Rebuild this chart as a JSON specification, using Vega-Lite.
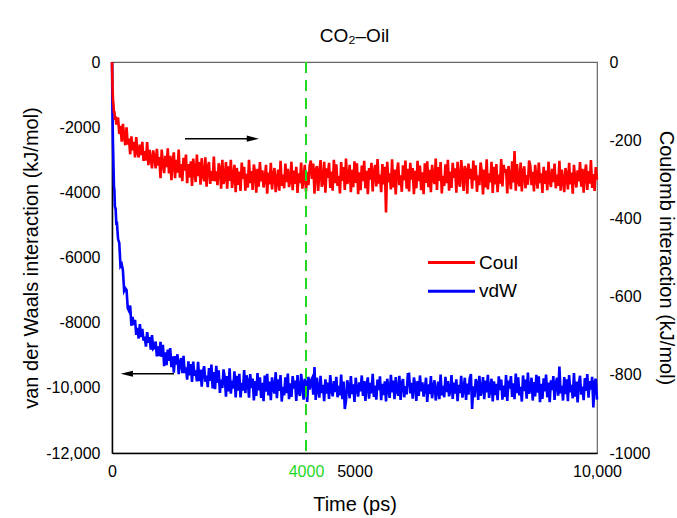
{
  "$schema": "https://vega.github.io/schema/vega-lite/v6.json",
  "width": 485,
  "height": 391,
  "autosize": {"type": "none"},
  "padding": {"left": 112, "top": 62, "right": 80, "bottom": 65},
  "background": "white",
  "config": {
    "font": "Liberation Sans",
    "view": {"stroke": "#666666", "strokeWidth": 1.2},
    "axis": {"grid": false, "ticks": false, "tickSize": 0, "labelFontSize": 16, "titleFontSize": 20, "titleFontWeight": "normal", "labelColor": "black", "titleColor": "black", "domainColor": "black", "domainWidth": 1.5, "labelFlush": false, "labelOverlap": false}
  },
  "title": {"text": "CO₂–Oil", "fontSize": 19, "fontWeight": "normal", "offset": 8, "color": "black", "anchor": "middle"},
  "datasets": {
    "md": [
      {"t":0,"c":0,"v":0},{"t":10,"c":-60,"v":-1500},{"t":20,"c":-97,"v":-2500},{"t":30,"c":-108,"v":-3150},{"t":40,"c":-131,"v":-3800},
      {"t":50,"c":-126,"v":-3950},{"t":60,"c":-148,"v":-4450},{"t":75,"c":-139,"v":-4500},{"t":90,"c":-160,"v":-5000},{"t":100,"c":-150,"v":-4900},
      {"t":125,"c":-142,"v":-5436},{"t":150,"c":-184,"v":-5552},{"t":175,"c":-163,"v":-6264},{"t":200,"c":-204,"v":-6204},{"t":225,"c":-158,"v":-6388},
      {"t":250,"c":-190,"v":-7022},{"t":275,"c":-213,"v":-6946},{"t":300,"c":-167,"v":-6998},{"t":325,"c":-211,"v":-7556},{"t":350,"c":-196,"v":-7634},
      {"t":375,"c":-236,"v":-7472},{"t":400,"c":-190,"v":-8096},{"t":425,"c":-226,"v":-7824},{"t":450,"c":-204,"v":-8068},{"t":475,"c":-244,"v":-7910},
      {"t":500,"c":-192,"v":-8374},{"t":525,"c":-230,"v":-8157},{"t":550,"c":-244,"v":-8486},{"t":575,"c":-211,"v":-8047},{"t":600,"c":-238,"v":-8442},
      {"t":625,"c":-204,"v":-8189},{"t":650,"c":-253,"v":-8554},{"t":675,"c":-228,"v":-8433},{"t":700,"c":-252,"v":-8738},{"t":725,"c":-205,"v":-8293},
      {"t":750,"c":-264,"v":-8616},{"t":775,"c":-225,"v":-8441},{"t":800,"c":-247,"v":-8824},{"t":825,"c":-272,"v":-8379},{"t":850,"c":-226,"v":-8804},
      {"t":875,"c":-243,"v":-8767},{"t":900,"c":-272,"v":-8580},{"t":925,"c":-222,"v":-9035},{"t":950,"c":-265,"v":-8728},{"t":975,"c":-243,"v":-9027},
      {"t":1000,"c":-297,"v":-8588},{"t":1025,"c":-224,"v":-9053},{"t":1050,"c":-260,"v":-8678},{"t":1075,"c":-284,"v":-9335},{"t":1100,"c":-240,"v":-8912},
      {"t":1125,"c":-269,"v":-9305},{"t":1150,"c":-221,"v":-8826},{"t":1175,"c":-285,"v":-9171},{"t":1200,"c":-240,"v":-8780},{"t":1225,"c":-302,"v":-9365},
      {"t":1250,"c":-252,"v":-9030},{"t":1275,"c":-231,"v":-9535},{"t":1300,"c":-297,"v":-9024},{"t":1325,"c":-250,"v":-9289},{"t":1350,"c":-283,"v":-8970},
      {"t":1375,"c":-224,"v":-9579},{"t":1400,"c":-296,"v":-9220},{"t":1425,"c":-261,"v":-9085},{"t":1450,"c":-305,"v":-9550},{"t":1475,"c":-245,"v":-9015},
      {"t":1500,"c":-278,"v":-9544},{"t":1525,"c":-237,"v":-9374},{"t":1550,"c":-310,"v":-9748},{"t":1575,"c":-261,"v":-9186},{"t":1600,"c":-295,"v":-9616},
      {"t":1625,"c":-254,"v":-9270},{"t":1650,"c":-317,"v":-9820},{"t":1675,"c":-247,"v":-9194},{"t":1700,"c":-278,"v":-9632},{"t":1725,"c":-307,"v":-9462},
      {"t":1750,"c":-237,"v":-9804},{"t":1775,"c":-292,"v":-9202},{"t":1800,"c":-256,"v":-9792},{"t":1825,"c":-314,"v":-9438},{"t":1850,"c":-246,"v":-9964},
      {"t":1875,"c":-290,"v":-9514},{"t":1900,"c":-305,"v":-9336},{"t":1925,"c":-244,"v":-9814},{"t":1950,"c":-319,"v":-9628},{"t":1975,"c":-268,"v":-9978},
      {"t":2000,"c":-256,"v":-9390},{"t":2025,"c":-312,"v":-9790},{"t":2050,"c":-279,"v":-9289},{"t":2075,"c":-304,"v":-10019},{"t":2100,"c":-242,"v":-9518},
      {"t":2125,"c":-305,"v":-10038},{"t":2150,"c":-280,"v":-9327},{"t":2175,"c":-315,"v":-9847},{"t":2200,"c":-259,"v":-9466},{"t":2225,"c":-273,"v":-10156},
      {"t":2250,"c":-324,"v":-9745},{"t":2275,"c":-250,"v":-10005},{"t":2300,"c":-312,"v":-9434},{"t":2325,"c":-298,"v":-9684},{"t":2350,"c":-256,"v":-10273},
      {"t":2375,"c":-324,"v":-9643},{"t":2400,"c":-267,"v":-10112},{"t":2425,"c":-304,"v":-9402},{"t":2450,"c":-250,"v":-10181},{"t":2475,"c":-322,"v":-9781},
      {"t":2500,"c":-293,"v":-10020},{"t":2525,"c":-263,"v":-9494},{"t":2550,"c":-333,"v":-10298},{"t":2575,"c":-271,"v":-9632},{"t":2600,"c":-314,"v":-10086},
      {"t":2625,"c":-280,"v":-9570},{"t":2650,"c":-330,"v":-10294},{"t":2675,"c":-257,"v":-9848},{"t":2700,"c":-299,"v":-10082},{"t":2725,"c":-268,"v":-9456},
      {"t":2750,"c":-329,"v":-10160},{"t":2775,"c":-286,"v":-9614},{"t":2800,"c":-321,"v":-9818},{"t":2825,"c":-250,"v":-10302},{"t":2850,"c":-310,"v":-9576},
      {"t":2875,"c":-279,"v":-10010},{"t":2900,"c":-327,"v":-9714},{"t":2925,"c":-262,"v":-10388},{"t":2950,"c":-284,"v":-9792},{"t":2975,"c":-334,"v":-10246},
      {"t":3000,"c":-273,"v":-9550},{"t":3025,"c":-319,"v":-10080},{"t":3050,"c":-256,"v":-9680},{"t":3075,"c":-305,"v":-10310},{"t":3100,"c":-277,"v":-9850},
      {"t":3125,"c":-321,"v":-10410},{"t":3150,"c":-298,"v":-9620},{"t":3175,"c":-263,"v":-10120},{"t":3200,"c":-337,"v":-9570},{"t":3225,"c":-283,"v":-10230},
      {"t":3250,"c":-313,"v":-9810},{"t":3275,"c":-258,"v":-10380},{"t":3300,"c":-326,"v":-9680},{"t":3325,"c":-290,"v":-10050},{"t":3350,"c":-271,"v":-10170},
      {"t":3375,"c":-333,"v":-9520},{"t":3400,"c":-303,"v":-10320},{"t":3425,"c":-275,"v":-9740},{"t":3450,"c":-329,"v":-10090},{"t":3475,"c":-253,"v":-9610},
      {"t":3500,"c":-317,"v":-10420},{"t":3525,"c":-288,"v":-9970},{"t":3550,"c":-323,"v":-10230},{"t":3575,"c":-260,"v":-9680},{"t":3600,"c":-307,"v":-10160},
      {"t":3625,"c":-273,"v":-9560},{"t":3650,"c":-320,"v":-10350},{"t":3675,"c":-302,"v":-9860},{"t":3700,"c":-255,"v":-10280},{"t":3725,"c":-328,"v":-9640},
      {"t":3750,"c":-278,"v":-10020},{"t":3775,"c":-312,"v":-9780},{"t":3800,"c":-268,"v":-10400},{"t":3825,"c":-335,"v":-9610},{"t":3850,"c":-285,"v":-10130},
      {"t":3875,"c":-310,"v":-10250},{"t":3900,"c":-257,"v":-9570},{"t":3925,"c":-324,"v":-9900},{"t":3950,"c":-299,"v":-10360},{"t":3975,"c":-263,"v":-9720},
      {"t":4000,"c":-331,"v":-9830},{"t":4025,"c":-281,"v":-10430},{"t":4050,"c":-315,"v":-9660},{"t":4075,"c":-265,"v":-10050},{"t":4100,"c":-252,"v":-9790},
      {"t":4125,"c":-299,"v":-9710},{"t":4150,"c":-260,"v":-10210},{"t":4175,"c":-337,"v":-9360},{"t":4200,"c":-277,"v":-10370},{"t":4225,"c":-266,"v":-9690},
      {"t":4250,"c":-330,"v":-10050},{"t":4275,"c":-284,"v":-10300},{"t":4300,"c":-251,"v":-9630},{"t":4325,"c":-319,"v":-10160},{"t":4350,"c":-307,"v":-9910},
      {"t":4375,"c":-255,"v":-10410},{"t":4400,"c":-334,"v":-9740},{"t":4425,"c":-272,"v":-10180},{"t":4450,"c":-296,"v":-9840},{"t":4475,"c":-258,"v":-10340},
      {"t":4500,"c":-322,"v":-9610},{"t":4525,"c":-280,"v":-10080},{"t":4550,"c":-329,"v":-10260},{"t":4575,"c":-250,"v":-9790},{"t":4600,"c":-310,"v":-10130},
      {"t":4625,"c":-262,"v":-9660},{"t":4650,"c":-317,"v":-10290},{"t":4675,"c":-291,"v":-9940},{"t":4700,"c":-336,"v":-10230},{"t":4725,"c":-256,"v":-9590},
      {"t":4750,"c":-304,"v":-10350},{"t":4775,"c":-269,"v":-9810},{"t":4800,"c":-327,"v":-10650},{"t":4825,"c":-247,"v":-10390},{"t":4850,"c":-312,"v":-9770},
      {"t":4875,"c":-300,"v":-9960},{"t":4900,"c":-263,"v":-10320},{"t":4925,"c":-333,"v":-9640},{"t":4950,"c":-276,"v":-10190},{"t":4975,"c":-320,"v":-9890},
      {"t":5000,"c":-254,"v":-10430},{"t":5025,"c":-309,"v":-9690},{"t":5050,"c":-259,"v":-10040},{"t":5075,"c":-338,"v":-10270},{"t":5100,"c":-282,"v":-9830},
      {"t":5125,"c":-328,"v":-10110},{"t":5150,"c":-265,"v":-9620},{"t":5175,"c":-305,"v":-10250},{"t":5200,"c":-253,"v":-9790},{"t":5225,"c":-323,"v":-10400},
      {"t":5250,"c":-278,"v":-9900},{"t":5275,"c":-338,"v":-9680},{"t":5300,"c":-271,"v":-10330},{"t":5325,"c":-301,"v":-9850},{"t":5350,"c":-258,"v":-10170},
      {"t":5375,"c":-331,"v":-9570},{"t":5400,"c":-283,"v":-10280},{"t":5425,"c":-263,"v":-9930},{"t":5450,"c":-318,"v":-10360},{"t":5475,"c":-248,"v":-9750},
      {"t":5500,"c":-311,"v":-10070},{"t":5525,"c":-288,"v":-9650},{"t":5550,"c":-333,"v":-10380},{"t":5575,"c":-261,"v":-9880},{"t":5600,"c":-313,"v":-10220},
      {"t":5625,"c":-268,"v":-9800},{"t":5650,"c":-385,"v":-10420},{"t":5675,"c":-255,"v":-9720},{"t":5700,"c":-308,"v":-10020},{"t":5725,"c":-285,"v":-10310},
      {"t":5750,"c":-326,"v":-9600},{"t":5775,"c":-249,"v":-10140},{"t":5800,"c":-321,"v":-9780},{"t":5825,"c":-275,"v":-10350},{"t":5850,"c":-339,"v":-9670},
      {"t":5875,"c":-281,"v":-10100},{"t":5900,"c":-257,"v":-10240},{"t":5925,"c":-315,"v":-9630},{"t":5950,"c":-290,"v":-10370},{"t":5975,"c":-332,"v":-9860},
      {"t":6000,"c":-264,"v":-9730},{"t":6025,"c":-303,"v":-10290},{"t":6050,"c":-252,"v":-9950},{"t":6075,"c":-324,"v":-10200},{"t":6100,"c":-273,"v":-9580},
      {"t":6125,"c":-331,"v":-9570},{"t":6150,"c":-258,"v":-10170},{"t":6175,"c":-301,"v":-9850},{"t":6200,"c":-271,"v":-10330},{"t":6225,"c":-338,"v":-9680},
      {"t":6250,"c":-278,"v":-9900},{"t":6275,"c":-323,"v":-10400},{"t":6300,"c":-253,"v":-9790},{"t":6325,"c":-305,"v":-10250},{"t":6350,"c":-265,"v":-9620},
      {"t":6375,"c":-328,"v":-10110},{"t":6400,"c":-282,"v":-9830},{"t":6425,"c":-338,"v":-10270},{"t":6450,"c":-259,"v":-10040},{"t":6475,"c":-309,"v":-9690},
      {"t":6500,"c":-254,"v":-10430},{"t":6525,"c":-320,"v":-9890},{"t":6550,"c":-276,"v":-10190},{"t":6575,"c":-333,"v":-9640},{"t":6600,"c":-263,"v":-10320},
      {"t":6625,"c":-300,"v":-9960},{"t":6650,"c":-312,"v":-9770},{"t":6675,"c":-247,"v":-10390},{"t":6700,"c":-327,"v":-10090},{"t":6725,"c":-269,"v":-9810},
      {"t":6750,"c":-304,"v":-10350},{"t":6775,"c":-256,"v":-9590},{"t":6800,"c":-336,"v":-10230},{"t":6825,"c":-291,"v":-9940},{"t":6850,"c":-317,"v":-10290},
      {"t":6875,"c":-262,"v":-9660},{"t":6900,"c":-310,"v":-10130},{"t":6925,"c":-250,"v":-9790},{"t":6950,"c":-329,"v":-10260},{"t":6975,"c":-280,"v":-10080},
      {"t":7000,"c":-322,"v":-9610},{"t":7025,"c":-258,"v":-10340},{"t":7050,"c":-296,"v":-9840},{"t":7075,"c":-272,"v":-10180},{"t":7100,"c":-334,"v":-9740},
      {"t":7125,"c":-255,"v":-10410},{"t":7150,"c":-307,"v":-9910},{"t":7175,"c":-319,"v":-10160},{"t":7200,"c":-251,"v":-9630},{"t":7225,"c":-284,"v":-10300},
      {"t":7250,"c":-330,"v":-10050},{"t":7275,"c":-266,"v":-9690},{"t":7300,"c":-277,"v":-10370},{"t":7325,"c":-337,"v":-9870},{"t":7350,"c":-260,"v":-10210},
      {"t":7375,"c":-299,"v":-9710},{"t":7400,"c":-273,"v":-9580},{"t":7425,"c":-324,"v":-10650},{"t":7450,"c":-252,"v":-9950},{"t":7475,"c":-303,"v":-10290},
      {"t":7500,"c":-264,"v":-9730},{"t":7525,"c":-332,"v":-9860},{"t":7550,"c":-290,"v":-10370},{"t":7575,"c":-315,"v":-9630},{"t":7600,"c":-257,"v":-10240},
      {"t":7625,"c":-281,"v":-10100},{"t":7650,"c":-339,"v":-9670},{"t":7675,"c":-275,"v":-10350},{"t":7700,"c":-321,"v":-9780},{"t":7725,"c":-249,"v":-10140},
      {"t":7750,"c":-326,"v":-9600},{"t":7775,"c":-285,"v":-10310},{"t":7800,"c":-308,"v":-10020},{"t":7825,"c":-255,"v":-9720},{"t":7850,"c":-335,"v":-10420},
      {"t":7875,"c":-268,"v":-9800},{"t":7900,"c":-313,"v":-10220},{"t":7925,"c":-261,"v":-9880},{"t":7950,"c":-333,"v":-10380},{"t":7975,"c":-288,"v":-9650},
      {"t":8000,"c":-311,"v":-10070},{"t":8025,"c":-248,"v":-9750},{"t":8050,"c":-318,"v":-10360},{"t":8075,"c":-263,"v":-9930},{"t":8100,"c":-283,"v":-10280},
      {"t":8125,"c":-274,"v":-9610},{"t":8150,"c":-336,"v":-10400},{"t":8175,"c":-266,"v":-9780},{"t":8200,"c":-296,"v":-10020},{"t":8225,"c":-325,"v":-9640},
      {"t":8250,"c":-254,"v":-10280},{"t":8275,"c":-308,"v":-9860},{"t":8300,"c":-228,"v":-10350},{"t":8325,"c":-329,"v":-9560},{"t":8350,"c":-261,"v":-10160},
      {"t":8375,"c":-304,"v":-9680},{"t":8400,"c":-318,"v":-10230},{"t":8425,"c":-257,"v":-9970},{"t":8450,"c":-331,"v":-10420},{"t":8475,"c":-280,"v":-9620},
      {"t":8500,"c":-267,"v":-10100},{"t":8525,"c":-323,"v":-9750},{"t":8550,"c":-289,"v":-10330},{"t":8575,"c":-314,"v":-9530},{"t":8600,"c":-252,"v":-10180},
      {"t":8625,"c":-265,"v":-10060},{"t":8650,"c":-315,"v":-9690},{"t":8675,"c":-281,"v":-10390},{"t":8700,"c":-331,"v":-9820},{"t":8725,"c":-263,"v":-10260},
      {"t":8750,"c":-299,"v":-9600},{"t":8775,"c":-324,"v":-10150},{"t":8800,"c":-257,"v":-9650},{"t":8825,"c":-310,"v":-10440},{"t":8850,"c":-285,"v":-9880},
      {"t":8875,"c":-335,"v":-10340},{"t":8900,"c":-268,"v":-9710},{"t":8925,"c":-312,"v":-10110},{"t":8950,"c":-278,"v":-9590},{"t":8975,"c":-328,"v":-10290},
      {"t":9000,"c":-255,"v":-9840},{"t":9025,"c":-302,"v":-10440},{"t":9050,"c":-320,"v":-9770},{"t":9075,"c":-273,"v":-10070},{"t":9100,"c":-307,"v":-9640},
      {"t":9125,"c":-260,"v":-10370},{"t":9150,"c":-323,"v":-9890},{"t":9175,"c":-288,"v":-9690},{"t":9200,"c":-317,"v":-10240},{"t":9225,"c":-253,"v":-9350},
      {"t":9250,"c":-329,"v":-10170},{"t":9275,"c":-275,"v":-9940},{"t":9300,"c":-303,"v":-10390},{"t":9325,"c":-333,"v":-9670},{"t":9350,"c":-271,"v":-10190},
      {"t":9375,"c":-290,"v":-9740},{"t":9400,"c":-326,"v":-10410},{"t":9425,"c":-258,"v":-9610},{"t":9450,"c":-313,"v":-10140},{"t":9475,"c":-283,"v":-9910},
      {"t":9500,"c":-337,"v":-10320},{"t":9525,"c":-263,"v":-9550},{"t":9550,"c":-298,"v":-10270},{"t":9575,"c":-321,"v":-9810},{"t":9600,"c":-277,"v":-10450},
      {"t":9625,"c":-305,"v":-9870},{"t":9650,"c":-256,"v":-9630},{"t":9675,"c":-319,"v":-10210},{"t":9700,"c":-273,"v":-9960},{"t":9725,"c":-334,"v":-10380},
      {"t":9750,"c":-284,"v":-9700},{"t":9775,"c":-262,"v":-10090},{"t":9800,"c":-327,"v":-9580},{"t":9825,"c":-279,"v":-10300},{"t":9850,"c":-311,"v":-9790},
      {"t":9875,"c":-251,"v":-10050},{"t":9900,"c":-322,"v":-9660},{"t":9925,"c":-287,"v":-10600},{"t":9950,"c":-330,"v":-9830},{"t":9975,"c":-269,"v":-9720},
      {"t":10000,"c":-301,"v":-10360}
    ]
  },
  "layer": [
    {
      "layer": [
        {
          "data": {"name": "md"},
          "mark": {"type": "line", "strokeWidth": 2.6},
          "encoding": {
            "x": {"field": "t", "type": "quantitative", "scale": {"domain": [0, 10000], "nice": false},
                  "axis": {"title": "Time (ps)", "values": [0, 4000, 5000, 10000], "labelPadding": 10, "titlePadding": 15,
                           "labelExpr": "datum.value == 10000 ? '10,000' : '' + datum.value",
                           "labelColor": {"condition": {"test": "datum.value == 4000", "value": "#1fd81f"}, "value": "black"}}},
            "y": {"field": "v", "type": "quantitative", "scale": {"domain": [-12000, 0], "nice": false},
                  "axis": {"orient": "left", "title": "van der Waals interaction (kJ/mol)", "values": [-12000, -10000, -8000, -6000, -4000, -2000, 0],
                           "labelPadding": 12, "titlePadding": 4,
                           "labelExpr": "datum.value <= -10000 ? '-' + floor(-datum.value / 1000) + ',000' : '' + datum.value"}},
            "color": {"datum": "vdW", "type": "nominal",
                      "scale": {"domain": ["Coul", "vdW"], "range": ["#ff0000", "#0000ff"]},
                      "legend": {"orient": "none", "legendX": 328, "legendY": 189, "title": null, "padding": 0,
                                 "symbolType": "M-2.35,0H2.35", "symbolSize": 400, "symbolStrokeWidth": 3,
                                 "labelFontSize": 19, "labelColor": "black", "labelOffset": 16, "rowPadding": 6.7}}
          }
        },
        {
          "data": {"values": [{}]},
          "mark": {"type": "rule", "color": "black", "strokeWidth": 1.5},
          "encoding": {
            "x": {"datum": 433, "type": "quantitative"},
            "x2": {"datum": 1278},
            "y": {"datum": -9566, "type": "quantitative"}
          }
        },
        {
          "data": {"values": [{}]},
          "mark": {"type": "point", "shape": "M1,-0.5L-1,0L1,0.5Z", "filled": true, "color": "black", "opacity": 1, "size": 150},
          "encoding": {
            "x": {"datum": 305, "type": "quantitative"},
            "y": {"datum": -9566, "type": "quantitative"}
          }
        }
      ]
    },
    {
      "layer": [
        {
          "data": {"name": "md"},
          "mark": {"type": "line", "strokeWidth": 2.6},
          "encoding": {
            "x": {"field": "t", "type": "quantitative"},
            "y": {"field": "c", "type": "quantitative", "scale": {"domain": [-1000, 0], "nice": false},
                  "axis": {"orient": "right", "title": "Coulomb interaction (kJ/mol)", "values": [-1000, -800, -600, -400, -200, 0],
                           "labelPadding": 12, "titlePadding": 6, "domain": false,
                           "labelExpr": "'' + datum.value"}},
            "color": {"datum": "Coul", "type": "nominal"}
          }
        },
        {
          "data": {"values": [{}]},
          "mark": {"type": "rule", "color": "black", "strokeWidth": 1.5},
          "encoding": {
            "x": {"datum": 1505, "type": "quantitative"},
            "x2": {"datum": 2790},
            "y": {"datum": -196, "type": "quantitative"}
          }
        },
        {
          "data": {"values": [{}]},
          "mark": {"type": "point", "shape": "M-1,-0.5L1,0L-1,0.5Z", "filled": true, "color": "black", "opacity": 1, "size": 150},
          "encoding": {
            "x": {"datum": 2904, "type": "quantitative"},
            "y": {"datum": -196, "type": "quantitative"}
          }
        },
        {
          "data": {"values": [{}]},
          "mark": {"type": "rule", "color": "#1fd81f", "strokeWidth": 2, "strokeDash": [11, 7]},
          "encoding": {
            "x": {"datum": 4000, "type": "quantitative"}
          }
        }
      ]
    }
  ],
  "resolve": {"scale": {"y": "independent"}}
}
